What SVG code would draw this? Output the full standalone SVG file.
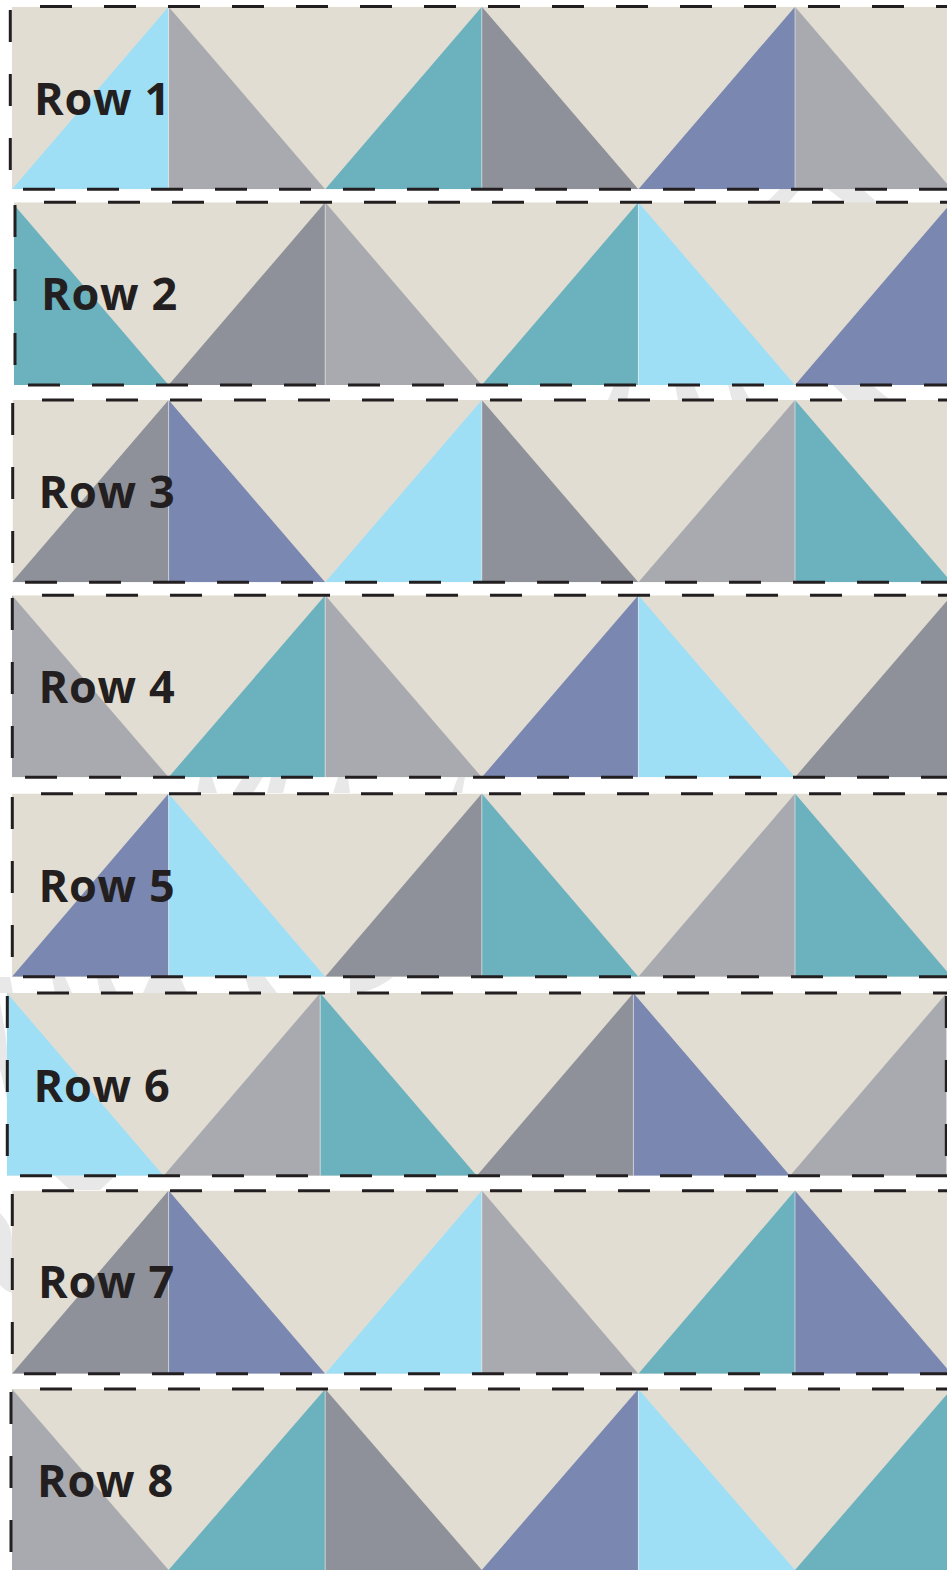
<svg xmlns="http://www.w3.org/2000/svg" width="947" height="1570" viewBox="0 0 947 1570">
<style>
.bg{fill:#e2ddd2}
.lb{fill:#9fdff6}
.lg{fill:#a9aaaf}
.dg{fill:#8e9199}
.tl{fill:#6cb1be}
.bl{fill:#7a87b1}
.sep{stroke:#ffffff;stroke-opacity:0.5;stroke-width:1}
.dash{stroke:#231f20;stroke-width:3;stroke-dasharray:32 32;fill:none}
.lbl{font-family:"Open Sans","Liberation Sans",sans-serif;font-weight:700;font-size:45px;letter-spacing:0.7px;fill:#231f20}
.wm{fill:#e8e8e8}
</style>
<defs>
<clipPath id="c1"><rect x="12" y="6.7" width="935" height="182.5"/></clipPath>
<clipPath id="c2"><rect x="14" y="202.3" width="933" height="182.7"/></clipPath>
<clipPath id="c3"><rect x="12.5" y="400" width="934.5" height="182.3"/></clipPath>
<clipPath id="c4"><rect x="12" y="595.3" width="935" height="182"/></clipPath>
<clipPath id="c5"><rect x="12" y="793.5" width="935" height="183.3"/></clipPath>
<clipPath id="c6"><rect x="7" y="993" width="939.6" height="182.7"/></clipPath>
<clipPath id="c7"><rect x="12" y="1190.6" width="935" height="183.2"/></clipPath>
<clipPath id="c8"><rect x="12" y="1389" width="935" height="181"/></clipPath>
</defs>
<rect width="947" height="1570" fill="#ffffff"/>
<g id="watermark">
<polygon class="wm" points="766,203 788,203 800,189 780,189"/>
<polygon class="wm" points="828,189 862,189 878,203 846,203"/>
<polygon class="wm" points="608,400 627,400 630,385 614,385"/>
<polygon class="wm" points="678,400 700,400 694,385 675,385"/>
<polygon class="wm" points="732,400 750,400 742,385 728,385"/>
<polygon class="wm" points="833,385 872,385 890,400 848,400"/>
<polygon class="wm" points="197,793 217,793 212,777 200,777"/>
<polygon class="wm" points="233,793 253,793 263,777 243,777"/>
<polygon class="wm" points="267,793 283,793 287,777 271,777"/>
<polygon class="wm" points="333,793 350,793 348,777 338,777"/>
<polygon class="wm" points="452,793 462,793 465,777 458,777"/>
<polygon class="wm" points="0,993 13,993 10,977 0,977"/>
<polygon class="wm" points="55,993 72,993 65,977 52,977"/>
<polygon class="wm" points="100,993 117,993 110,977 97,977"/>
<polygon class="wm" points="143,993 187,993 180,977 150,977"/>
<polygon class="wm" points="250,993 277,993 265,977 245,977"/>
<path class="wm" d="M350,977 L393,977 Q380,988 360,993 L350,993 Z"/>
<polygon class="wm" points="55,1176 115,1176 100,1190 70,1190"/>
<path class="wm" d="M0,1003 Q7,1040 7,1050 L7,1100 Q3,1080 0,1070 Z"/>
<path class="wm" d="M0,1213 Q12,1225 12,1240 L12,1293 Q4,1290 0,1285 Z"/>
</g>
<g id="row1" clip-path="url(#c1)">
<rect class="bg" x="12" y="6.7" width="935" height="182.5"/>
<polygon class="lb" points="12,189.2 168.6,6.7 168.6,189.2"/>
<polygon class="lg" points="168.6,6.7 168.6,189.2 325.2,189.2"/>
<polygon class="tl" points="325.2,189.2 481.8,6.7 481.8,189.2"/>
<polygon class="dg" points="481.8,6.7 481.8,189.2 638.4,189.2"/>
<polygon class="bl" points="638.4,189.2 795,6.7 795,189.2"/>
<polygon class="lg" points="795,6.7 795,189.2 951.6,189.2"/>
<path class="sep" d="M168.6,6.7V189.2M481.8,6.7V189.2M795,6.7V189.2"/>
</g>
<g id="row2" clip-path="url(#c2)">
<rect class="bg" x="14" y="202.3" width="933" height="182.7"/>
<polygon class="tl" points="12,202.3 12,385 168.6,385"/>
<polygon class="dg" points="168.6,385 325.2,202.3 325.2,385"/>
<polygon class="lg" points="325.2,202.3 325.2,385 481.8,385"/>
<polygon class="tl" points="481.8,385 638.4,202.3 638.4,385"/>
<polygon class="lb" points="638.4,202.3 638.4,385 795,385"/>
<polygon class="bl" points="795,385 951.6,202.3 951.6,385"/>
<path class="sep" d="M325.2,202.3V385M638.4,202.3V385"/>
</g>
<g id="row3" clip-path="url(#c3)">
<rect class="bg" x="12.5" y="400" width="934.5" height="182.3"/>
<polygon class="dg" points="12,582.3 168.6,400 168.6,582.3"/>
<polygon class="bl" points="168.6,400 168.6,582.3 325.2,582.3"/>
<polygon class="lb" points="325.2,582.3 481.8,400 481.8,582.3"/>
<polygon class="dg" points="481.8,400 481.8,582.3 638.4,582.3"/>
<polygon class="lg" points="638.4,582.3 795,400 795,582.3"/>
<polygon class="tl" points="795,400 795,582.3 951.6,582.3"/>
<path class="sep" d="M168.6,400V582.3M481.8,400V582.3M795,400V582.3"/>
</g>
<g id="row4" clip-path="url(#c4)">
<rect class="bg" x="12" y="595.3" width="935" height="182"/>
<polygon class="lg" points="12,595.3 12,777.3 168.6,777.3"/>
<polygon class="tl" points="168.6,777.3 325.2,595.3 325.2,777.3"/>
<polygon class="lg" points="325.2,595.3 325.2,777.3 481.8,777.3"/>
<polygon class="bl" points="481.8,777.3 638.4,595.3 638.4,777.3"/>
<polygon class="lb" points="638.4,595.3 638.4,777.3 795,777.3"/>
<polygon class="dg" points="795,777.3 951.6,595.3 951.6,777.3"/>
<path class="sep" d="M325.2,595.3V777.3M638.4,595.3V777.3"/>
</g>
<g id="row5" clip-path="url(#c5)">
<rect class="bg" x="12" y="793.5" width="935" height="183.3"/>
<polygon class="bl" points="12,976.8 168.6,793.5 168.6,976.8"/>
<polygon class="lb" points="168.6,793.5 168.6,976.8 325.2,976.8"/>
<polygon class="dg" points="325.2,976.8 481.8,793.5 481.8,976.8"/>
<polygon class="tl" points="481.8,793.5 481.8,976.8 638.4,976.8"/>
<polygon class="lg" points="638.4,976.8 795,793.5 795,976.8"/>
<polygon class="tl" points="795,793.5 795,976.8 951.6,976.8"/>
<path class="sep" d="M168.6,793.5V976.8M481.8,793.5V976.8M795,793.5V976.8"/>
</g>
<g id="row6" clip-path="url(#c6)">
<rect class="bg" x="7" y="993" width="939.6" height="182.7"/>
<polygon class="lb" points="7,993 7,1175.7 163.6,1175.7"/>
<polygon class="lg" points="163.6,1175.7 320.2,993 320.2,1175.7"/>
<polygon class="tl" points="320.2,993 320.2,1175.7 476.8,1175.7"/>
<polygon class="dg" points="476.8,1175.7 633.4,993 633.4,1175.7"/>
<polygon class="bl" points="633.4,993 633.4,1175.7 790,1175.7"/>
<polygon class="lg" points="790,1175.7 946.6,993 946.6,1175.7"/>
<path class="sep" d="M320.2,993V1175.7M633.4,993V1175.7"/>
</g>
<g id="row7" clip-path="url(#c7)">
<rect class="bg" x="12" y="1190.6" width="935" height="183.2"/>
<polygon class="dg" points="12,1373.8 168.6,1190.6 168.6,1373.8"/>
<polygon class="bl" points="168.6,1190.6 168.6,1373.8 325.2,1373.8"/>
<polygon class="lb" points="325.2,1373.8 481.8,1190.6 481.8,1373.8"/>
<polygon class="lg" points="481.8,1190.6 481.8,1373.8 638.4,1373.8"/>
<polygon class="tl" points="638.4,1373.8 795,1190.6 795,1373.8"/>
<polygon class="bl" points="795,1190.6 795,1373.8 951.6,1373.8"/>
<path class="sep" d="M168.6,1190.6V1373.8M481.8,1190.6V1373.8M795,1190.6V1373.8"/>
</g>
<g id="row8" clip-path="url(#c8)">
<rect class="bg" x="12" y="1389" width="935" height="181"/>
<polygon class="lg" points="12,1389 12,1570 168.6,1570"/>
<polygon class="tl" points="168.6,1570 325.2,1389 325.2,1570"/>
<polygon class="dg" points="325.2,1389 325.2,1570 481.8,1570"/>
<polygon class="bl" points="481.8,1570 638.4,1389 638.4,1570"/>
<polygon class="lb" points="638.4,1389 638.4,1570 795,1570"/>
<polygon class="tl" points="795,1570 951.6,1389 951.6,1570"/>
<path class="sep" d="M325.2,1389V1570M638.4,1389V1570"/>
</g>
<g id="dashes">
<path class="dash" d="M40,6.5H960"/>
<path class="dash" d="M23,189.3H960"/>
<path class="dash" d="M10.3,10V170"/>
<path class="dash" d="M44,202.3H960"/>
<path class="dash" d="M28,385H960"/>
<path class="dash" d="M15,205V365"/>
<path class="dash" d="M42,400H960"/>
<path class="dash" d="M25,582.3H960"/>
<path class="dash" d="M12.7,403V563"/>
<path class="dash" d="M42,595.3H960"/>
<path class="dash" d="M25,777.3H960"/>
<path class="dash" d="M12.3,598V758"/>
<path class="dash" d="M41,793.7H960"/>
<path class="dash" d="M23,976.7H960"/>
<path class="dash" d="M12.3,797V957"/>
<path class="dash" d="M37,993H960"/>
<path class="dash" d="M20,1175.7H960"/>
<path class="dash" d="M7.3,996V1156"/>
<path class="dash" d="M946.3,996V1156"/>
<path class="dash" d="M42,1190.7H960"/>
<path class="dash" d="M24,1373.7H960"/>
<path class="dash" d="M12.3,1194V1354"/>
<path class="dash" d="M40,1389H960"/>
<path class="dash" d="M11,1392V1552"/>
</g>
<g id="labels">
<text class="lbl" x="34" y="115">Row 1</text>
<text class="lbl" x="41" y="310">Row 2</text>
<text class="lbl" x="38.5" y="507.7">Row 3</text>
<text class="lbl" x="38.5" y="703.3">Row 4</text>
<text class="lbl" x="38.5" y="901.7">Row 5</text>
<text class="lbl" x="33.5" y="1101.7">Row 6</text>
<text class="lbl" x="38" y="1298.3">Row 7</text>
<text class="lbl" x="37" y="1497.3">Row 8</text>
</g>
</svg>
